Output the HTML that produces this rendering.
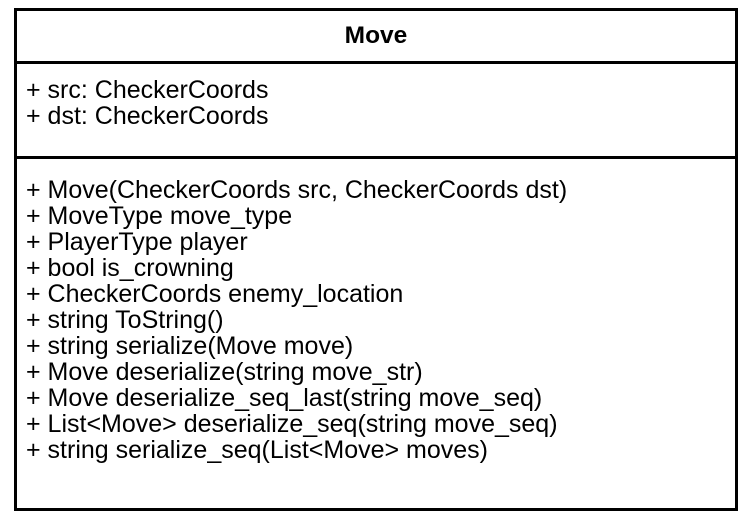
<!DOCTYPE html>
<html><head><style>
body{margin:0;width:756px;height:528px;background:#fff;position:relative;font-family:"Liberation Sans",Arial,sans-serif;color:#000}
.b{position:absolute;left:14px;top:8px;width:718px;height:497px;border:3px solid #000}
.d{position:absolute;left:14px;width:724px;height:3px;background:#000}
.t{position:absolute;left:14px;width:724px;top:21px;text-align:center;font-weight:bold;font-size:24.5px;line-height:30px}
.l{position:absolute;left:26px;font-size:25px;line-height:26px;white-space:pre}
</style></head><body>
<div class="b"></div>
<div class="d" style="top:61px"></div>
<div class="d" style="top:156px"></div>
<div class="t">Move</div>
<div class="l" style="top:77px">+ src: CheckerCoords
+ dst: CheckerCoords</div>
<div class="l" style="top:177px">+ Move(CheckerCoords src, CheckerCoords dst)
+ MoveType move_type
+ PlayerType player
+ bool is_crowning
+ CheckerCoords enemy_location
+ string ToString()
+ string serialize(Move move)
+ Move deserialize(string move_str)
+ Move deserialize_seq_last(string move_seq)
+ List&lt;Move&gt; deserialize_seq(string move_seq)
+ string serialize_seq(List&lt;Move&gt; moves)</div>
</body></html>
